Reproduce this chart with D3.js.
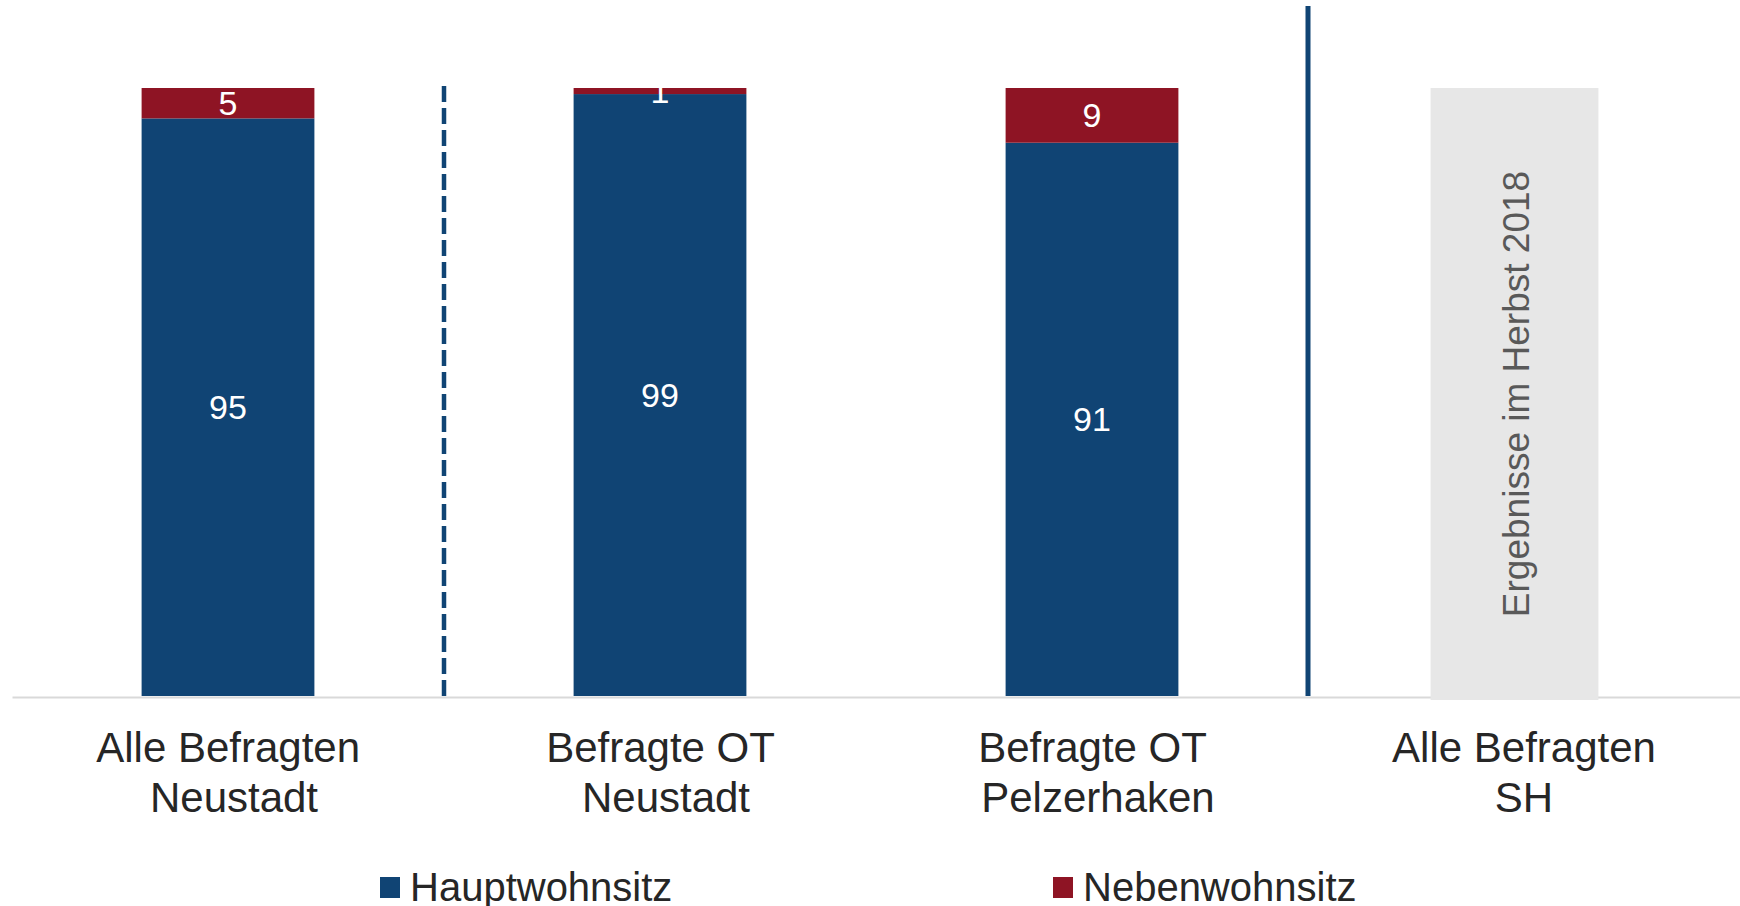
<!DOCTYPE html>
<html>
<head>
<meta charset="utf-8">
<script src="https://cdn.jsdelivr.net/npm/d3@7/dist/d3.min.js"></script>
<style>
  body { margin: 0; background: #fff; }
  svg { display: block; font-family: "Liberation Sans", Arial, sans-serif; }
</style>
</head>
<body>
<script>
// data
var categories = ['Alle Befragten Neustadt', 'Befragte OT Neustadt', 'Befragte OT Pelzerhaken', 'Alle Befragten SH'];
var categoryLines = [['Alle Befragten ', 'Neustadt'], ['Befragte OT ', 'Neustadt'], ['Befragte OT ', 'Pelzerhaken'], ['Alle Befragten', 'SH']];
var hauptwohnsitz = [95, 99, 91, null];
var nebenwohnsitz = [5, 1, 9, null];
var seriesNames = ['Hauptwohnsitz', 'Nebenwohnsitz'];
var seriesColors = ['#104474', '#8e1424'];
var placeholderText = 'Ergebnisse im Herbst 2018';

var width = 1740, height = 906;

var svg = d3.select('body').append('svg')
  .attr('width', width)
  .attr('height', height);

var x = d3.scaleBand()
  .domain(categories)
  .range([12, 1740])
  .paddingInner(0.6)
  .paddingOuter(0.3);

var y = d3.scaleLinear()
  .domain([0, 100])
  .range([696, 88]);

// baseline
svg.append('g')
  .attr('transform', 'translate(0,697)')
  .call(d3.axisBottom(x).tickSize(0).tickSizeOuter(0).tickFormat(''))
  .call(function (g) {
    g.select('.domain').attr('stroke', '#d9d9d9').attr('stroke-width', 2);
  });

// stacked bars
var rows = categories.map(function (c, i) {
  return { cat: c, haupt: hauptwohnsitz[i], neben: nebenwohnsitz[i] };
}).filter(function (d) { return d.haupt !== null; });

var stack = d3.stack().keys(['haupt', 'neben'])(rows);

stack.forEach(function (layer, k) {
  var g = svg.append('g');
  g.selectAll('rect').data(layer).enter().append('rect')
    .attr('x', function (d) { return x(d.data.cat); })
    .attr('y', function (d) { return y(d[1]); })
    .attr('width', x.bandwidth())
    .attr('height', function (d) { return y(d[0]) - y(d[1]); })
    .attr('fill', seriesColors[k]);
  g.selectAll('text').data(layer).enter().append('text')
    .attr('x', function (d) { return x(d.data.cat) + x.bandwidth() / 2; })
    .attr('y', function (d) { return (y(d[0]) + y(d[1])) / 2 + 12; })
    .attr('text-anchor', 'middle')
    .attr('font-size', 34)
    .attr('fill', '#fff')
    .text(function (d) { return d[1] - d[0]; });
});

// placeholder for the SH column
var shCat = categories[3];
var gx = x(shCat) - 7, gw = x.bandwidth() - 5;
svg.append('rect')
  .attr('x', gx)
  .attr('y', y(100))
  .attr('width', gw)
  .attr('height', y(0) - y(100) + 4)
  .attr('fill', '#e7e7e7');
svg.append('text')
  .attr('transform', 'translate(' + (gx + gw / 2 + 14) + ',' + ((y(100) + y(0)) / 2 + 2) + ') rotate(-90)')
  .attr('text-anchor', 'middle')
  .attr('font-size', 37)
  .attr('fill', '#595959')
  .text(placeholderText);

// separators
var sep1 = (x(categories[0]) + x(categories[1]) + x.bandwidth()) / 2;
svg.append('line')
  .attr('x1', sep1).attr('x2', sep1)
  .attr('y1', 86).attr('y2', 697)
  .attr('stroke', '#104474')
  .attr('stroke-width', 4.5)
  .attr('stroke-dasharray', '16,6');

var sep2 = (x(categories[2]) + x(categories[3]) + x.bandwidth()) / 2;
svg.append('line')
  .attr('x1', sep2).attr('x2', sep2)
  .attr('y1', 6).attr('y2', 696)
  .attr('stroke', '#104474')
  .attr('stroke-width', 5);

// category labels, two lines each
categories.forEach(function (c, i) {
  var cx = x(c) + x.bandwidth() / 2 + (i < 3 ? 6 : 0);
  var t = svg.append('text')
    .attr('y', 762)
    .attr('text-anchor', 'middle')
    .attr('font-size', 42)
    .attr('fill', '#262626')
    .style('white-space', 'pre');
  categoryLines[i].forEach(function (line, j) {
    t.append('tspan')
      .attr('x', cx)
      .attr('dy', j === 0 ? 0 : 50)
      .text(line);
  });
});

// legend
var legendX = [380, 1053];
seriesNames.forEach(function (name, i) {
  var g = svg.append('g').attr('transform', 'translate(' + legendX[i] + ',0)');
  g.append('rect')
    .attr('x', 0).attr('y', 877)
    .attr('width', 20).attr('height', 21)
    .attr('fill', seriesColors[i]);
  g.append('text')
    .attr('x', 30).attr('y', 901)
    .attr('font-size', 40)
    .attr('fill', '#262626')
    .text(name);
});
</script>
</body>
</html>
